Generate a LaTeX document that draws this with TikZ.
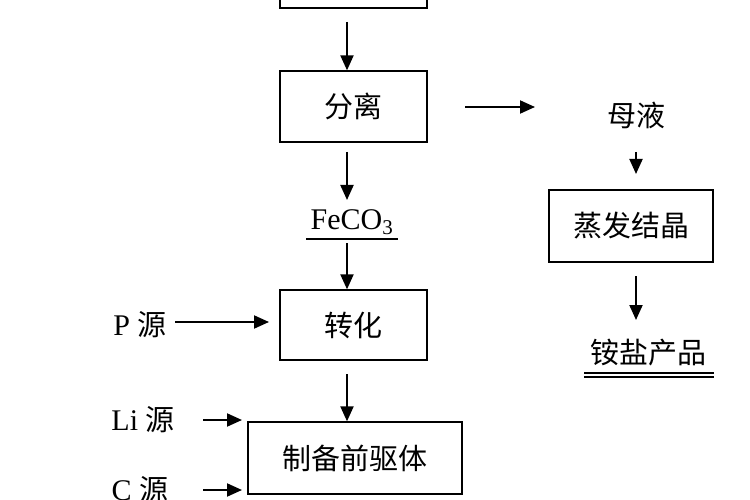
\documentclass[tikz,border=0pt]{standalone}
\usepackage{fontspec}
\setmainfont{Liberation Serif}
\newfontfamily\cjk{Noto Sans CJK SC}
\usetikzlibrary{arrows.meta}
\begin{document}
\begin{tikzpicture}[x=1pt,y=-1pt,
  box/.style={draw,line width=1.3pt,inner sep=0,font=\fontsize{29}{32}\selectfont\cjk},
  lab/.style={inner sep=0,font=\fontsize{30}{33}\selectfont},
  arr/.style={-{Triangle[length=15pt,width=13pt]},line width=2pt}]
\useasboundingbox (0,0) rectangle (750,500);
\clip (0,0) rectangle (750,500);
\node[box,minimum width=147,minimum height=40] (top) at (353.5,-12) {};
\node[box,minimum width=147,minimum height=71] (fl) at (353.5,106.5) {分离};
\node[lab,font=\fontsize{29}{32}\selectfont\cjk] (my) at (636,115) {母液};
\node[box,minimum width=164,minimum height=72] (zf) at (631,226) {蒸发结晶};
\node[lab] (ay) at (648,353) {\fontsize{29}{32}\selectfont\cjk 铵盐产品};
\draw[line width=1.2pt] (584,373) -- (714,373) (584,377) -- (714,377);
\node[lab] (fe) at (352,222) {FeCO\textsubscript{3}};
\draw[line width=1.2pt] (306,239) -- (398,239);
\node[box,minimum width=147,minimum height=70] (zh) at (353.5,325) {转化};
\node[lab] (p) at (140,325) {P \fontsize{29}{32}\selectfont\cjk 源};
\node[box,minimum width=214,minimum height=72] (zb) at (355,458) {制备前驱体};
\node[lab] (li) at (143,420) {Li \fontsize{29}{32}\selectfont\cjk 源};
\node[lab] (c) at (140,490) {C \fontsize{29}{32}\selectfont\cjk 源};
\coordinate (a1) at (465,107); \coordinate (a2) at (535,107);
\draw[arr] (347,22) -- (fl.north -| 347,0);
\draw[arr] (a1) -- (a2);
\draw[arr] (636,152) -- (636,174);
\draw[arr] (636,276) -- (636,320);
\draw[arr] (347,152) -- (347,200);
\draw[arr] (347,243) -- (zh.north -| 347,0);
\draw[arr] (175,322) -- (269,322);
\draw[arr] (347,374) -- (zb.north -| 347,0);
\draw[arr] (203,420) -- (242,420);
\draw[arr] (203,490) -- (242,490);
\end{tikzpicture}
\end{document}
